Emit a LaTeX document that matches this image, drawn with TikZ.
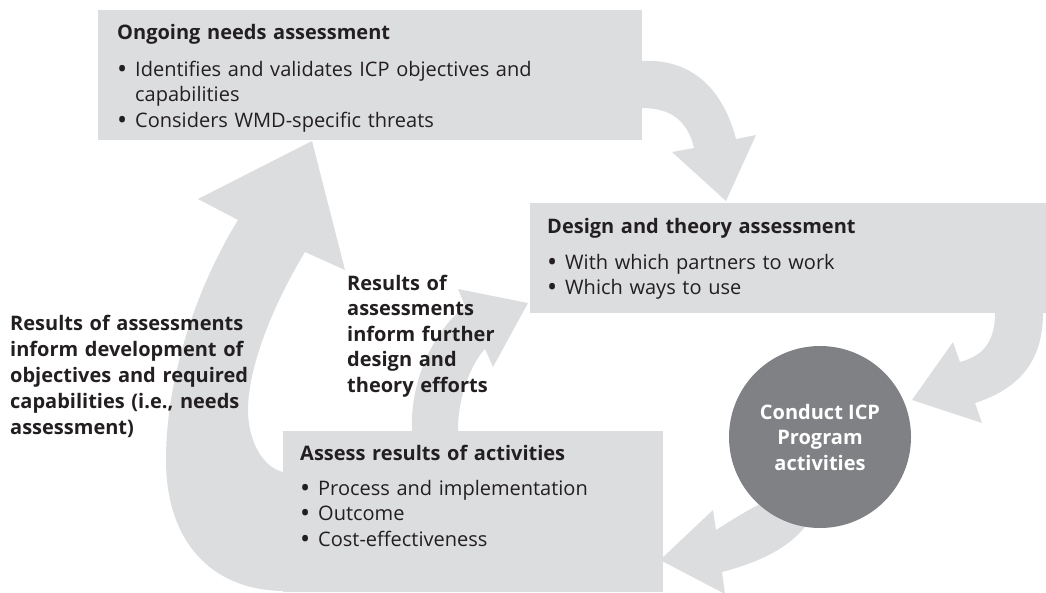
\documentclass[tikz,border=0pt]{standalone}
\usepackage{graphicx}
\usepackage{fontspec}
\setmainfont{Open Sans}
\definecolor{boxgray}{RGB}{220,221,223}
\definecolor{circgray}{RGB}{128,129,133}
\definecolor{ink}{RGB}{35,31,32}
\newcommand\bul{\makebox[18pt][l]{\smash{\raisebox{-2.2pt}{\scalebox{1.35}{•}}}}}
\begin{document}
\begin{tikzpicture}[x=1pt,y=-1pt,
  bandshape/.style={fill=boxgray,draw=none},
  boxnode/.style={fill=boxgray,draw=none,inner sep=0pt,outer sep=0pt,anchor=north west},
  txt/.style={font=\fontsize{20}{25.5}\selectfont,text=ink,inner sep=0pt,anchor=base west,text width=520pt,align=left},
  bold/.style={txt,font=\fontsize{20}{25.5}\selectfont\bfseries},
  lefttxt/.style={txt,font=\fontsize{20}{26}\selectfont\bfseries}]
\useasboundingbox (0,0) rectangle (1046,592);

% block arrows (behind boxes)
\fill[bandshape] (630,61) -- (642,61) .. controls (700,58) and (726,100) .. (736,139)
  -- (756,135) -- (726,201) -- (672,152) -- (694,148)
  .. controls (688,122) and (672,108) .. (642,108) -- (630,108) -- cycle;
\fill[bandshape] (995,300) -- (995,313) .. controls (995,343) and (982,356) .. (960,362)
  -- (953,342) -- (912,400) -- (982,423) -- (975,403)
  .. controls (1015,390) and (1043,365) .. (1043,313) -- (1043,300) -- cycle;
\fill[bandshape] (830,495) -- (790,490) -- (780,495) .. controls (755,505) and (735,518) .. (716,530)
  -- (713,510) -- (660,560) -- (725,594) -- (722,572)
  .. controls (760,562) and (800,545) .. (815,510) -- cycle;
\fill[bandshape] (300,472) -- (283,472) .. controls (262,467) and (248,440) .. (248,410)
  .. controls (248,370) and (270,310) .. (305,252) -- (345,270) -- (312,141) -- (198,199)
  -- (238,220) .. controls (195,290) and (166,380) .. (166,460)
  .. controls (166,540) and (210,590) .. (283,591) -- (300,591) -- cycle;
\fill[bandshape] (412,440) -- (412,430) .. controls (410,385) and (430,335) .. (465,306)
  -- (458,289) -- (528,303) -- (493,367) -- (485,349)
  .. controls (474,360) and (458,392) .. (458,430) -- (458,440) -- cycle;

% boxes
\node[boxnode,minimum width=544pt,minimum height=130pt] (box1) at (98,10) {};
\node[boxnode,minimum width=516pt,minimum height=110pt] (box2) at (530,203) {};
\node[boxnode,minimum width=380pt,minimum height=161pt] (box3) at (283,431) {};
\node[circle,fill=circgray,draw=none,minimum size=182pt,inner sep=0pt] (act) at (820,437) {};

% texts
\node[bold] (t1) at (117,39) {Ongoing needs assessment};
\node[txt] (b1) at (117,76) {\bul Identifies and validates ICP objectives and\\\hspace*{18pt}capabilities\\\bul Considers WMD-specific threats};
\node[bold] (t2) at (547,233) {Design and theory assessment};
\node[txt] (b2) at (547,269) {\bul With which partners to work\\\bul Which ways to use};
\node[bold] (t3) at (300,460) {Assess results of activities};
\node[txt] (b3) at (300,495) {\bul Process and implementation\\\bul Outcome\\\bul Cost-effectiveness};
\node[lefttxt] (lt) at (10,330) {Results of assessments\\inform development of\\objectives and required\\capabilities (i.e., needs\\assessment)};
\node[bold] (mt) at (347,290) {Results of\\assessments\\inform further\\design and\\theory efforts};
\node[font=\fontsize{20}{25.5}\selectfont\bfseries,text=white,align=center,inner sep=0pt] (ct) at (act) {Conduct ICP\\Program\\activities};
\end{tikzpicture}
\end{document}
